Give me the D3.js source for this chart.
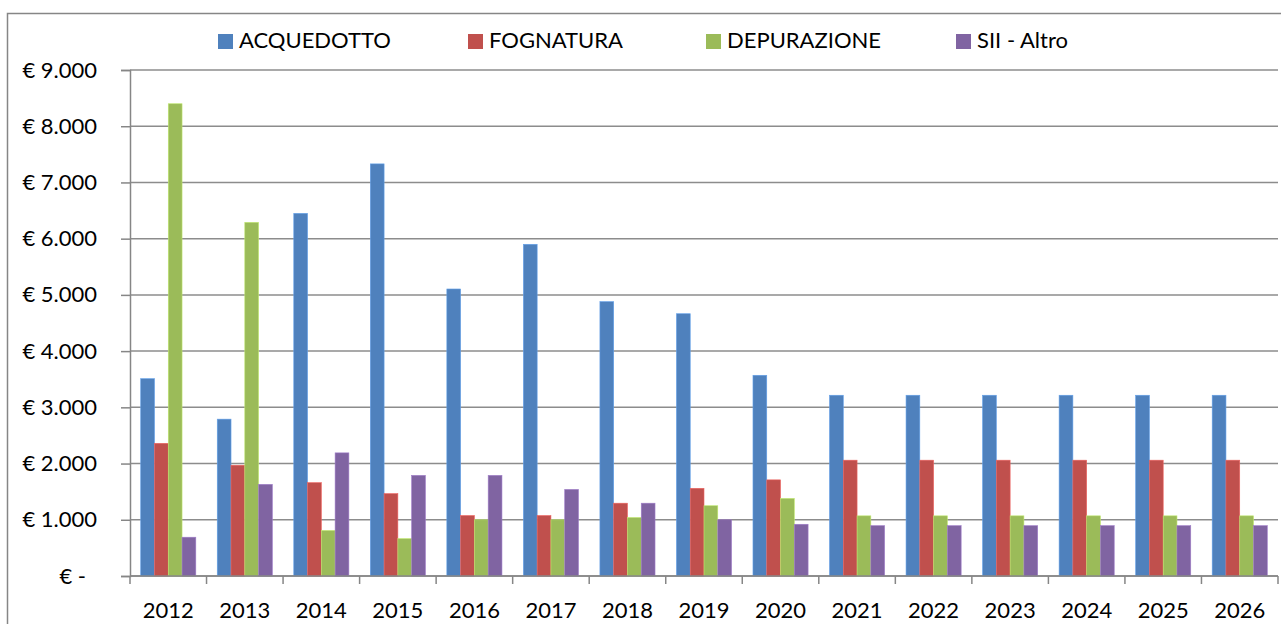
<!DOCTYPE html>
<html>
<head>
<meta charset="utf-8">
<script src="https://cdn.jsdelivr.net/npm/d3@7"></script>
<style>
  body { margin: 0; background: #fff; }
  svg text { font-family: Lato, "Open Sans", sans-serif; fill: #000; }
</style>
</head>
<body>
<svg id="chart"></svg>
<script>
const width = 1281;
const height = 624;
const margin = { top: 70, right: 3, bottom: 48, left: 130 };

const years = ['2012', '2013', '2014', '2015', '2016', '2017', '2018', '2019', '2020', '2021', '2022', '2023', '2024', '2025', '2026'];
const seriesNames = ['ACQUEDOTTO', 'FOGNATURA', 'DEPURAZIONE', 'SII - Altro'];
const colors = ['#4F81BD', '#C0504D', '#9BBB59', '#8064A2'];

const acquedotto = [3510, 2790, 6450, 7330, 5105, 5900, 4880, 4665, 3570, 3215, 3215, 3215, 3215, 3215, 3215];
const fognatura = [2360, 1970, 1660, 1465, 1075, 1075, 1295, 1560, 1710, 2060, 2060, 2060, 2060, 2060, 2060];
const depurazione = [8400, 6290, 810, 665, 1000, 1000, 1040, 1250, 1380, 1070, 1070, 1070, 1070, 1070, 1070];
const altro = [690, 1630, 2190, 1790, 1790, 1540, 1295, 1000, 920, 895, 895, 895, 895, 895, 895];
const yTicks = [0, 1000, 2000, 3000, 4000, 5000, 6000, 7000, 8000, 9000];

const seriesValues = [acquedotto, fognatura, depurazione, altro];
const data = years.map((y, i) => ({ year: y, values: seriesValues.map(s => s[i]) }));

const svg = d3.select('#chart')
    .attr('width', width)
    .attr('height', height);

// outer chart border
svg.append('rect')
    .attr('x', 7.5)
    .attr('y', 13.5)
    .attr('width', 1290)
    .attr('height', 700)
    .attr('fill', 'none')
    .attr('stroke', '#868686')
    .attr('stroke-width', 1.5);

const x0 = d3.scaleBand()
    .domain(years)
    .range([margin.left, width - margin.right])
    .paddingInner(0.28)
    .paddingOuter(0.14);

const x1 = d3.scaleBand()
    .domain(seriesNames)
    .range([0, x0.bandwidth()]);

const y = d3.scaleLinear()
    .domain([0, 9000])
    .range([height - margin.bottom, margin.top]);

// gridlines
svg.append('g')
    .selectAll('line')
    .data(yTicks)
    .enter()
    .append('line')
    .attr('x1', margin.left)
    .attr('x2', width - margin.right)
    .attr('y1', d => y(d))
    .attr('y2', d => y(d))
    .attr('stroke', '#8c8c8c')
    .attr('stroke-width', 1.5);

// y axis (accounting style labels)
const yAxis = d3.axisLeft(y)
    .tickValues(yTicks)
    .tickSize(9)
    .tickPadding(24)
    .tickFormat(d => d === 0 ? '€ -' : '€ ' + d3.format(',')(d).replace(/,/g, '.'));

const yG = svg.append('g')
    .attr('transform', `translate(${margin.left},0)`)
    .call(yAxis);
yG.select('.domain').attr('stroke', '#868686').attr('stroke-width', 1.5);
yG.selectAll('.tick line').attr('stroke', '#868686').attr('stroke-width', 1.5);
yG.selectAll('.tick text')
    .style('font-size', '22px')
    .attr('dx', d => d === 0 ? -11 : 0);

// bars
const groups = svg.append('g')
    .selectAll('g')
    .data(data)
    .enter()
    .append('g')
    .attr('transform', d => `translate(${x0(d.year)},0)`);

groups.selectAll('rect')
    .data(d => d.values.map((v, i) => ({ key: seriesNames[i], value: v, color: colors[i] })))
    .enter()
    .append('rect')
    .attr('x', d => x1(d.key))
    .attr('y', d => y(d.value))
    .attr('width', x1.bandwidth())
    .attr('height', d => y(0) - y(d.value))
    .attr('fill', d => d.color)
    .attr('stroke', d => d3.color(d.color).brighter(0.6))
    .attr('stroke-width', 0.6);

// x axis with ticks between categories
const xBoundaries = years.map(yv => x0(yv) - x0.step() * x0.paddingOuter()).concat([width - margin.right]);
const xAxisG = svg.append('g')
    .attr('transform', `translate(0,${height - margin.bottom})`);
xAxisG.append('line')
    .attr('x1', margin.left)
    .attr('x2', width - margin.right)
    .attr('stroke', '#868686')
    .attr('stroke-width', 1.5);
xAxisG.selectAll('.xtick')
    .data(xBoundaries)
    .enter()
    .append('line')
    .attr('x1', d => d)
    .attr('x2', d => d)
    .attr('y1', 0)
    .attr('y2', 8)
    .attr('stroke', '#868686')
    .attr('stroke-width', 1.5);
xAxisG.selectAll('text')
    .data(years)
    .enter()
    .append('text')
    .attr('x', d => x0(d) + x0.bandwidth() / 2)
    .attr('y', 42)
    .attr('text-anchor', 'middle')
    .style('font-size', '22px')
    .text(d => d);

// legend
const legendX = [218, 468, 706, 956];
const legend = svg.append('g')
    .selectAll('g')
    .data(seriesNames)
    .enter()
    .append('g')
    .attr('transform', (d, i) => `translate(${legendX[i]},34)`);
legend.append('rect')
    .attr('width', 15)
    .attr('height', 15)
    .attr('fill', (d, i) => colors[i]);
legend.append('text')
    .attr('x', 21)
    .attr('y', 14)
    .style('font-size', '22px')
    .text(d => d);
</script>
</body>
</html>
